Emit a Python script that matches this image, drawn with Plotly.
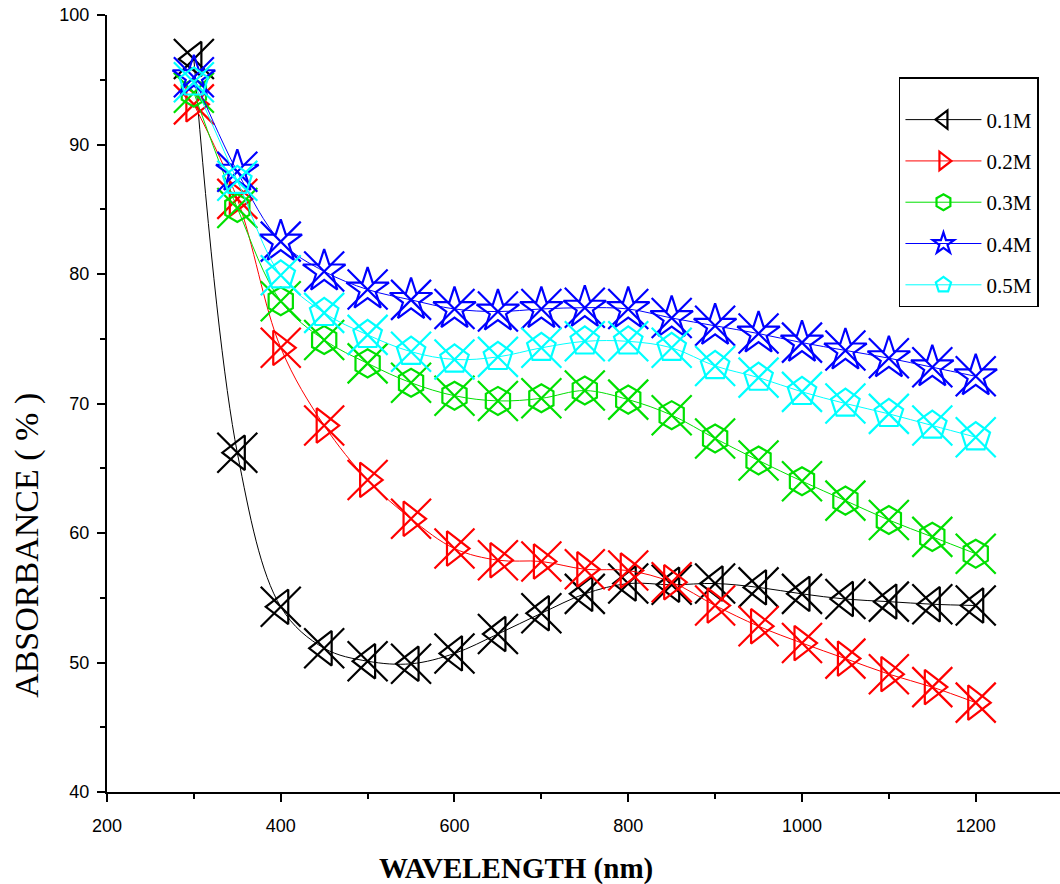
import plotly.graph_objects as go

# Wavelength grid (nm)
wavelength = [300, 350, 400, 450, 500, 550, 600, 650, 700, 750,
              800, 850, 900, 950, 1000, 1050, 1100, 1150, 1200]

# Absorbance (%) for each concentration
abs_01M = [96.6, 66.2, 54.3, 51.1, 50.1, 49.9, 50.7, 52.2, 53.8, 55.3,
           56.1, 56.0, 56.1, 55.8, 55.3, 54.9, 54.7, 54.5, 54.4]
abs_02M = [93.1, 85.8, 74.3, 68.3, 64.1, 61.1, 58.8, 57.9, 57.8, 57.2,
           57.1, 56.2, 54.4, 52.8, 51.5, 50.3, 49.1, 48.1, 46.9]
abs_03M = [94.0, 85.1, 77.9, 74.9, 73.1, 71.6, 70.6, 70.2, 70.4, 71.0,
           70.3, 69.1, 67.3, 65.6, 64.0, 62.5, 61.0, 59.7, 58.4]
abs_04M = [95.2, 87.9, 82.5, 80.2, 78.8, 78.0, 77.3, 77.1, 77.3, 77.4,
           77.3, 76.6, 76.0, 75.4, 74.7, 74.1, 73.5, 72.8, 72.1]
abs_05M = [94.8, 87.2, 79.9, 77.0, 75.3, 74.0, 73.4, 73.6, 74.3, 74.8,
           74.8, 74.3, 72.9, 72.0, 70.9, 70.0, 69.2, 68.3, 67.4]

names = ["0.1M", "0.2M", "0.3M", "0.4M", "0.5M"]
series = [abs_01M, abs_02M, abs_03M, abs_04M, abs_05M]
colors = ["#000000", "#ff0000", "#00e000", "#0000ff", "#00ffff"]
symbols = ["triangle-left-open", "triangle-right-open", "hexagon-open",
           "star-open", "pentagon-open"]
shape_sizes = [30, 30, 28, 32, 30]

fig = go.Figure()
for name, vals, col, sym, sz in zip(names, series, colors, symbols, shape_sizes):
    # smooth curve with the outline symbol
    fig.add_trace(go.Scatter(
        x=wavelength, y=vals, name=name, legendgroup=name,
        mode="lines+markers",
        line=dict(color=col, width=1, shape="spline", smoothing=1.0),
        marker=dict(symbol=sym, size=sz, color=col,
                    line=dict(color=col, width=2.2)),
    ))
    # crossing X overlay on each point
    fig.add_trace(go.Scatter(
        x=wavelength, y=vals, legendgroup=name, showlegend=False,
        mode="markers",
        marker=dict(symbol="x-thin-open", size=40, color=col,
                    line=dict(color=col, width=2.2)),
    ))

axis_common = dict(
    showline=True, linecolor="black", linewidth=2,
    ticks="outside", ticklen=8, tickwidth=2, tickcolor="black",
    showgrid=False, zeroline=False, mirror=False,
    tickfont=dict(family="Liberation Sans, Arial", size=18, color="black"),
)

fig.update_xaxes(
    range=[200, 1297], tickvals=[200, 400, 600, 800, 1000, 1200],
    minor=dict(tickvals=[300, 500, 700, 900, 1100], ticks="outside",
               ticklen=5, tickwidth=2, tickcolor="black"),
    ticklabelstandoff=8,
    **axis_common,
)
fig.update_yaxes(
    range=[40, 100], tickvals=[40, 50, 60, 70, 80, 90, 100],
    minor=dict(tickvals=[45, 55, 65, 75, 85, 95], ticks="outside",
               ticklen=5, tickwidth=2, tickcolor="black"),
    ticklabelstandoff=4,
    **axis_common,
)

fig.update_layout(
    width=1060, height=884,
    margin=dict(l=107, r=0, t=15, b=92),
    paper_bgcolor="white", plot_bgcolor="white",
    showlegend=True,
    legend=dict(
        x=0.831, y=0.92, xanchor="left", yanchor="top",
        bgcolor="white", bordercolor="black", borderwidth=1.5,
        font=dict(family="Liberation Serif, Times New Roman", size=21,
                  color="black"),
        title=dict(text="&nbsp;", font=dict(size=16)),
        itemwidth=76, tracegroupgap=11, traceorder="grouped",
    ),
    annotations=[
        dict(text="<b>WAVELENGTH (nm)</b>", xref="paper", yref="paper",
             x=0.429, y=-0.098, xanchor="center", yanchor="middle",
             showarrow=False,
             font=dict(family="Liberation Serif, Times New Roman", size=29,
                       color="black")),
        dict(text="ABSORBANCE ( % )", xref="paper", yref="paper",
             x=-0.084, y=0.318, xanchor="center", yanchor="middle",
             textangle=-90, showarrow=False,
             font=dict(family="Liberation Serif, Times New Roman", size=34,
                       color="black")),
    ],
)

fig.write_html("out.html")
